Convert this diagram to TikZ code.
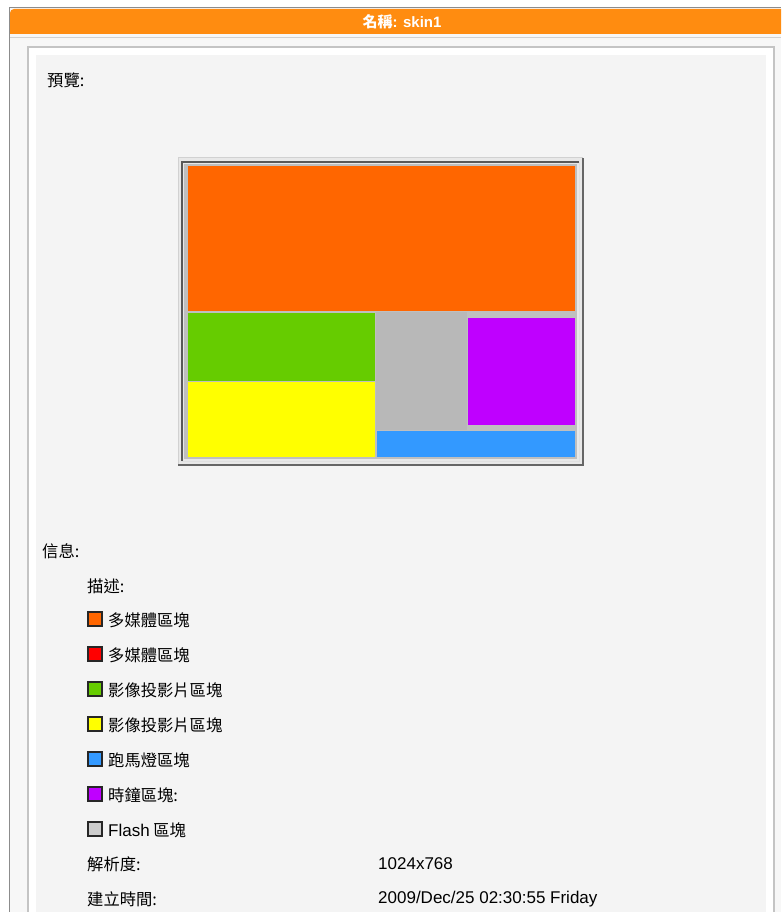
\documentclass[tikz,border=0pt]{standalone}
\usepackage{fontspec}
\setmainfont{Liberation Sans}
\newfontfamily\cjk{Noto Sans CJK TC}
\definecolor{hdr}{HTML}{FF8C10}
\definecolor{panel}{HTML}{F4F4F4}
\definecolor{frameg}{HTML}{C4C4C4}
\definecolor{cOrange}{HTML}{FF6600}
\definecolor{cRed}{HTML}{FF0000}
\definecolor{cGreen}{HTML}{66CC00}
\definecolor{cYellow}{HTML}{FFFF00}
\definecolor{cBlue}{HTML}{3399FF}
\definecolor{cPurple}{HTML}{BF00FF}
\definecolor{cGray}{HTML}{B8B8B8}
\definecolor{cLight}{HTML}{CCCCCC}
\begin{document}
\begin{tikzpicture}[x=1pt,y=-1pt,
  lbl/.style={anchor=west, inner sep=0pt, font=\fontsize{16.3}{18}\selectfont\cjk, text=black},
  val/.style={anchor=west, inner sep=0pt, font=\fontsize{17}{18}\selectfont, text=black},
  swatch/.style={draw=black!85, line width=1.6pt, minimum size=14.5pt, inner sep=0pt, anchor=center},
  zone/.style={draw=black!25, line width=0.6pt}]
\useasboundingbox (0,0) rectangle (781,912);
\fill[white] (0,0) rectangle (781,912);
% outer frame
\fill[panel!70!white] (9,8) rectangle (781,912);
\draw[black!45, line width=1pt] (9,912) -- (9,8) -- (781,8);
\fill[hdr] (10,34) [rounded corners=4pt] -- (10,9) [sharp corners] -- (781,9) -- (781,34) -- cycle;
\draw[black!18, line width=1pt] (10,38) -- (781,38);
% inner panel
\fill[white] (28,47) rectangle (774,912);
\draw[frameg, line width=1.5pt] (28,912) -- (28,47) -- (774,47) -- (774,912);
\fill[panel] (36,55) rectangle (766,912);
% header text
\node[inner sep=0pt, text=white, font=\fontsize{15}{17}\selectfont\bfseries] (title) at (402,22) {{\cjk 名稱}: skin1};
\node[lbl] (preview) at (47,80) {預覽:};
% preview frame
\fill[black!9] (178,158) rectangle (583,465);
\draw[black!18, line width=1pt] (178,465) -- (178,158) -- (583,158);
\draw[black!60, line width=1.2pt] (178,465) -- (583,465) -- (583,158);
\draw[black!65, line width=1.2pt] (182,461) -- (182,162) -- (579,162);
\draw[black!12, line width=1pt] (182,461) -- (579,461) -- (579,162);
\fill[black!25] (184,164) rectangle (577,459);
% zones
\filldraw[zone, fill=cOrange] (187,165) rectangle (575,311);
\filldraw[zone, fill=cGreen] (187,312) rectangle (375,381);
\filldraw[zone, fill=cYellow] (187,381) rectangle (375,457);
\filldraw[zone, fill=cGray, draw=cGray] (376,312) rectangle (466,429);
\filldraw[zone, fill=cPurple] (467,317) rectangle (575,425);
\filldraw[zone, fill=cBlue] (376,430) rectangle (575,457);
% info
\node[lbl] (info) at (42,551) {信息:};
\node[lbl] (desc) at (87,586) {描述:};
\node[swatch, fill=cOrange] (s1) at (95,619) {};
\node[lbl] (t1) at (108,620) {多媒體區塊};
\node[swatch, fill=cRed] (s2) at (95,654) {};
\node[lbl] (t2) at (108,655) {多媒體區塊};
\node[swatch, fill=cGreen] (s3) at (95,689) {};
\node[lbl] (t3) at (108,690) {影像投影片區塊};
\node[swatch, fill=cYellow] (s4) at (95,724) {};
\node[lbl] (t4) at (108,725) {影像投影片區塊};
\node[swatch, fill=cBlue] (s5) at (95,759) {};
\node[lbl] (t5) at (108,760) {跑馬燈區塊};
\node[swatch, fill=cPurple] (s6) at (95,794) {};
\node[lbl] (t6) at (108,795) {時鐘區塊:};
\node[swatch, fill=cLight] (s7) at (95,829) {};
\node[lbl] (t7) at (108,830) {{\fontspec{Liberation Sans}\fontsize{17}{18}\selectfont Flash} 區塊};
\node[lbl] (res) at (87,864) {解析度:};
\node[val] (resv) at (378,864) {1024x768};
\node[lbl] (ctime) at (87,899) {建立時間:};
\node[val] (ctimev) at (378,899) {2009/Dec/25 02:30:55 Friday};
\end{tikzpicture}
\end{document}
